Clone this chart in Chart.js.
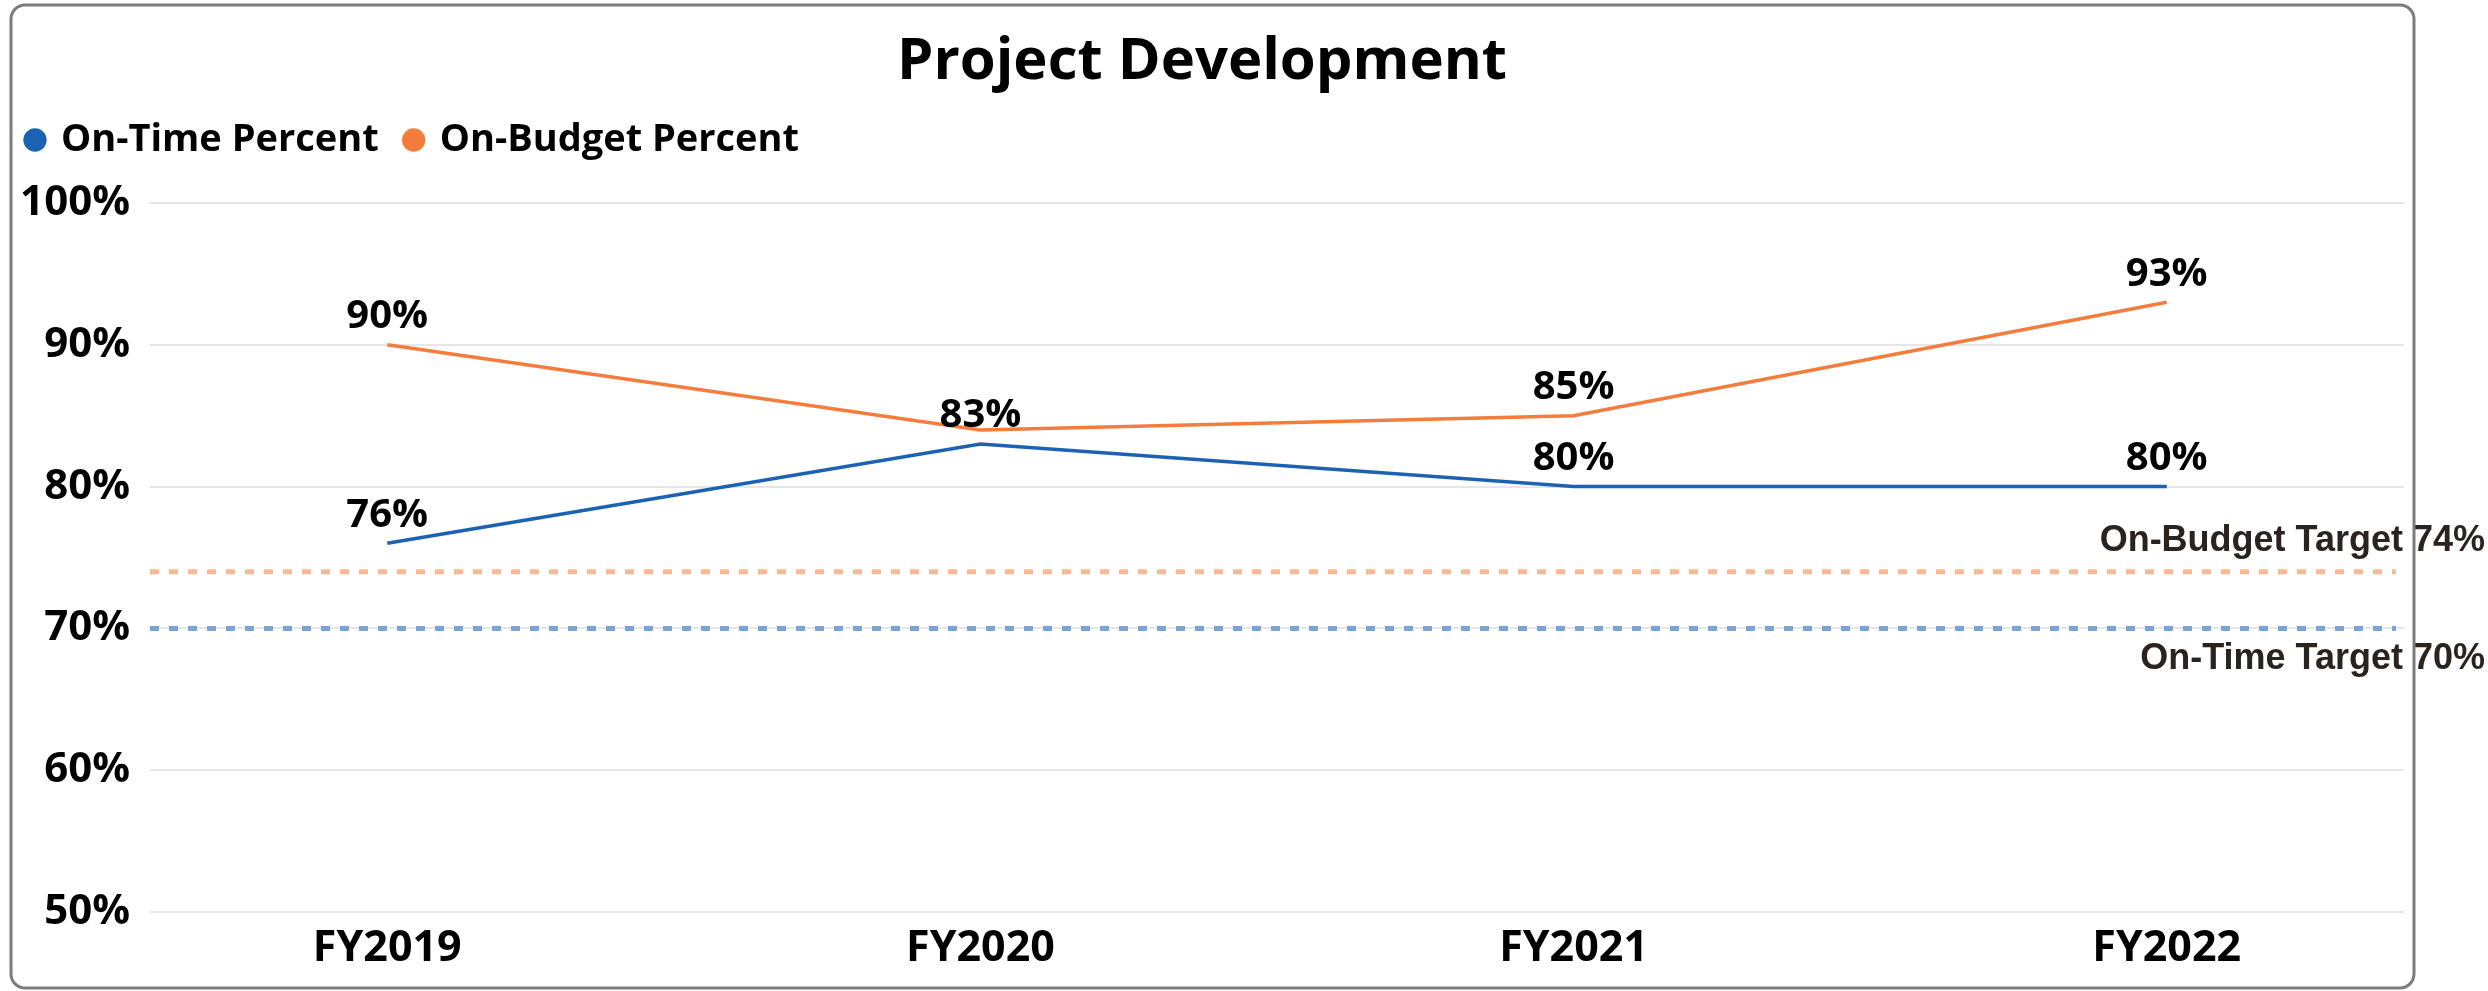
<!DOCTYPE html>
<html>
<head>
<meta charset="utf-8">
<title>Project Development</title>
<script src="https://cdn.jsdelivr.net/npm/chart.js@4.4.1/dist/chart.umd.min.js"></script>
<style>
  html, body { margin: 0; padding: 0; background: #ffffff; }
  #chart { display: block; }
</style>
</head>
<body>
<canvas id="chart" width="2488" height="991"></canvas>
<script>
// values
const fiscalYears = ['FY2019', 'FY2020', 'FY2021', 'FY2022'];
const onTimePercent = [76, 83, 80, 80];
const onBudgetPercent = [90, 84, 85, 93];
// the labels printed next to the points (FY2020 budget label is hidden behind the other one)
const onTimeLabels = ['76%', '83%', '80%', '80%'];
const onBudgetLabels = ['90%', null, '85%', '93%'];
const targetValues = [74, 70];
const targetNames = ['On-Budget Target 74%', 'On-Time Target 70%'];
const yTicks = [50, 60, 70, 80, 90, 100];

const BLUE = '#1c62b2';
const ORANGE = '#f47c3c';
const TARGET_COLORS = ['#f9b995', '#78a5d5'];
const FONT = '"Open Sans", "Noto Sans", sans-serif';

// dashed target lines, their captions, the point labels and the frame
const extrasPlugin = {
    id: 'extras',
    beforeDatasetsDraw(chart) {
        const { ctx, chartArea, scales } = chart;
        ctx.save();
        ctx.lineWidth = 5;
        ctx.setLineDash([9, 10]);
        targetValues.forEach((val, i) => {
            const y = scales.y.getPixelForValue(val);
            ctx.strokeStyle = TARGET_COLORS[i];
            ctx.beginPath();
            ctx.moveTo(chartArea.left, y);
            ctx.lineTo(chartArea.right - 8, y);
            ctx.stroke();
        });
        ctx.restore();
    },
    afterDatasetsDraw(chart) {
        const { ctx, scales } = chart;
        ctx.save();
        // target captions, right aligned at the canvas edge
        ctx.font = 'bold 36px "Liberation Sans", Arial, sans-serif';
        ctx.fillStyle = '#2b231d';
        ctx.textAlign = 'right';
        ctx.textBaseline = 'middle';
        targetNames.forEach((name, i) => {
            const y = scales.y.getPixelForValue(targetValues[i]);
            const off = i === 0 ? -31 : 31;
            ctx.fillText(name, chart.width - 3, y + off);
        });

        // point labels
        ctx.font = 'bold 40px ' + FONT;
        ctx.fillStyle = '#000000';
        ctx.textAlign = 'center';
        ctx.textBaseline = 'bottom';
        [onTimeLabels, onBudgetLabels].forEach((labels, di) => {
            const meta = chart.getDatasetMeta(di);
            meta.data.forEach((pt, i) => {
                if (!labels[i]) return;
                ctx.fillText(labels[i], pt.x, pt.y - 8);
            });
        });
        ctx.restore();
    },
    afterDraw(chart) {
        const { ctx } = chart;
        ctx.save();
        ctx.strokeStyle = '#7c7c7c';
        ctx.lineWidth = 3;
        ctx.beginPath();
        ctx.roundRect(11, 5, 2403, 983, 14);
        ctx.stroke();
        ctx.restore();
    }
};

new Chart(document.getElementById('chart'), {
    type: 'line',
    data: {
        datasets: [
            {
                label: 'On-Time Percent',
                data: onTimePercent.map((v, i) => ({ x: i, y: v })),
                borderColor: BLUE,
                backgroundColor: BLUE,
                borderWidth: 3.5,
                pointRadius: 0,
                tension: 0
            },
            {
                label: 'On-Budget Percent',
                data: onBudgetPercent.map((v, i) => ({ x: i, y: v })),
                borderColor: ORANGE,
                backgroundColor: ORANGE,
                borderWidth: 3.5,
                pointRadius: 0,
                tension: 0
            }
        ]
    },
    options: {
        responsive: false,
        animation: false,
        layout: {
            padding: { left: 0, right: 84, top: 0, bottom: 0 }
        },
        plugins: {
            title: {
                display: true,
                text: 'Project Development',
                color: '#000000',
                font: { family: FONT, size: 58, weight: 'bold', lineHeight: 1 },
                padding: { top: 33, bottom: 2 }
            },
            legend: {
                display: true,
                position: 'top',
                align: 'start',
                labels: {
                    usePointStyle: true,
                    pointStyle: 'circle',
                    boxWidth: 14,
                    boxHeight: 14,
                    padding: 28,
                    color: '#000000',
                    font: { family: FONT, size: 38, weight: 'bold' }
                }
            },
            tooltip: { enabled: false }
        },
        scales: {
            x: {
                type: 'linear',
                min: -0.4,
                max: fiscalYears.length - 0.6,
                afterBuildTicks(scale) {
                    scale.ticks = fiscalYears.map((_, i) => ({ value: i }));
                },
                afterFit(scale) {
                    scale.height = 79;
                },
                grid: { display: false, drawTicks: false },
                border: { display: false },
                ticks: {
                    padding: 11,
                    color: '#000000',
                    font: { family: FONT, size: 43, weight: 'bold' },
                    callback: (value) => fiscalYears[value]
                }
            },
            // empty top axis, only keeps the gap between the legend and the plot
            spacer: {
                type: 'linear',
                position: 'top',
                axis: 'x',
                display: true,
                grid: { display: false, drawTicks: false },
                border: { display: false },
                ticks: { display: false },
                afterFit(scale) {
                    scale.height = 34;
                }
            },
            y: {
                min: 50,
                max: 100,
                afterBuildTicks(scale) {
                    scale.ticks = yTicks.map(v => ({ value: v }));
                },
                afterFit(scale) {
                    scale.width = 150;
                },
                grid: { color: '#e6e6e6', lineWidth: 2, drawTicks: false },
                border: { display: false },
                ticks: {
                    padding: 20,
                    color: '#000000',
                    font: { family: FONT, size: 42, weight: 'bold' },
                    callback: (value) => value + '%'
                }
            }
        }
    },
    plugins: [extrasPlugin]
});
</script>
</body>
</html>
